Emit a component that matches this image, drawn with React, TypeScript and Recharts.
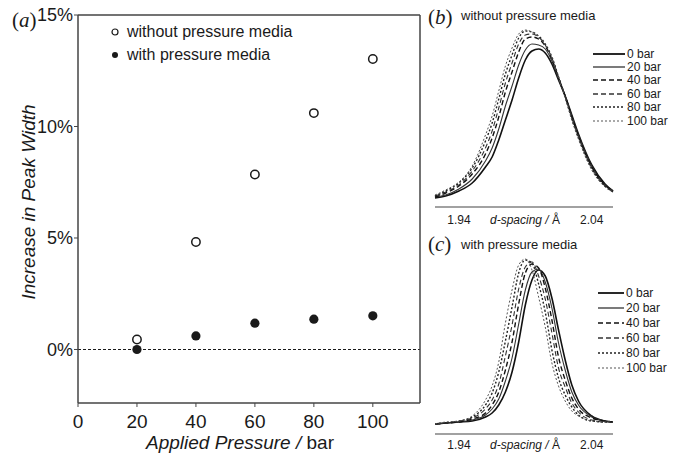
import { ScatterChart, Scatter, LineChart, Line, XAxis, YAxis, ReferenceLine } from 'recharts';

// panel (a): increase in peak width vs applied pressure
const pressures = [20, 40, 60, 80, 100];
const widthWithoutMedia = [0.45, 4.82, 7.85, 10.6, 13.03];
const widthWithMedia = [0.0, 0.61, 1.18, 1.36, 1.51];
const pressureTicks = [0, 20, 40, 60, 80, 100];
const percentTicks = [0, 5, 10, 15];

// panels (b), (c): peak profiles, arbitrary intensity
const dSpacing = [1.922, 1.93, 1.94, 1.95, 1.96, 1.965, 1.97, 1.975, 1.98, 1.985, 1.99, 1.995, 2.0, 2.005, 2.01, 2.015, 2.02, 2.025, 2.03, 2.04, 2.05, 2.056];
const dTicks = [1.94, 2.04];
const barLabels = ['0 bar', '20 bar', '40 bar', '60 bar', '80 bar', '100 bar'];

const without0 = [9, 11, 16, 24, 40, 50, 67, 87, 107, 129, 147, 156, 158, 154, 143, 127, 111, 92, 73, 42, 23, 16];
const without20 = [10, 12, 18, 28, 46, 59, 78, 101, 121, 142, 157, 163, 162, 158, 146, 128, 111, 91, 72, 41, 22, 16];
const without40 = [10, 14, 21, 33, 53, 69, 90, 115, 135, 155, 168, 170, 168, 161, 148, 129, 111, 90, 71, 40, 22, 16];
const without60 = [11, 15, 22, 36, 59, 76, 99, 124, 144, 163, 172, 173, 170, 162, 149, 130, 111, 89, 70, 39, 21, 15];
const without80 = [11, 16, 24, 39, 66, 84, 108, 133, 152, 169, 176, 175, 171, 163, 150, 130, 110, 88, 69, 38, 21, 15];
const without100 = [12, 17, 25, 41, 72, 91, 116, 141, 159, 173, 177, 175, 170, 162, 149, 129, 109, 87, 68, 37, 20, 15];

const with0 = [10, 11, 12, 13, 17, 21, 29, 42, 62, 92, 129, 154, 164, 158, 136, 104, 74, 49, 33, 18, 13, 12];
const with20 = [10, 11, 12, 14, 19, 25, 35, 53, 76, 110, 144, 162, 165, 152, 126, 91, 64, 42, 29, 17, 13, 12];
const with40 = [10, 11, 12, 15, 21, 29, 42, 64, 92, 130, 161, 170, 166, 146, 114, 77, 54, 36, 25, 16, 13, 12];
const with60 = [10, 11, 13, 16, 25, 34, 50, 78, 109, 145, 167, 172, 158, 135, 101, 66, 47, 31, 22, 14, 12, 12];
const with80 = [10, 11, 13, 17, 29, 41, 62, 93, 127, 161, 174, 171, 150, 122, 84, 56, 39, 27, 19, 13, 12, 12];
const with100 = [10, 12, 13, 18, 34, 48, 72, 111, 144, 169, 175, 164, 137, 107, 71, 48, 33, 23, 18, 13, 12, 12];

const SANS = '"Liberation Sans", Arial, sans-serif';
const SERIF = '"Liberation Serif", "Times New Roman", serif';
const INK = '#1a1a1a';
const FRAME = '#444';

const lineStyles = [
  { stroke: '#111', width: 1.6, dash: undefined },
  { stroke: '#333', width: 1.1, dash: undefined },
  { stroke: '#111', width: 1.4, dash: '5 3' },
  { stroke: '#333', width: 1.1, dash: '5 3' },
  { stroke: '#222', width: 1.4, dash: '2 2' },
  { stroke: '#555', width: 1.0, dash: '2 2' },
];

const withoutData = pressures.map((x, i) => ({ x, y: widthWithoutMedia[i] }));
const withData = pressures.map((x, i) => ({ x, y: widthWithMedia[i] }));

const buildRows = (series: number[][]) =>
  dSpacing.map((d, i) => {
    const row: Record<string, number> = { d };
    series.forEach((s, k) => (row['s' + k] = s[i]));
    return row;
  });

const rowsWithout = buildRows([without0, without20, without40, without60, without80, without100]);
const rowsWith = buildRows([with0, with20, with40, with60, with80, with100]);

const openCircle = (p: any) => <circle cx={p.cx} cy={p.cy} r={4.2} fill="#fff" stroke={INK} strokeWidth={1.5} />;
const filledCircle = (p: any) => <circle cx={p.cx} cy={p.cy} r={4.6} fill={INK} />;

function ScatterLegend() {
  const rows = [
    { label: 'without pressure media', open: true },
    { label: 'with pressure media', open: false },
  ];
  return (
    <div style={{ position: 'absolute', left: 108, top: 20, fontFamily: SANS, fontSize: 16, color: INK }}>
      {rows.map((r) => (
        <div key={r.label} style={{ display: 'flex', alignItems: 'center', height: 23 }}>
          <svg width={14} height={14}>
            <circle cx={7} cy={7} r={3} fill={r.open ? '#fff' : INK} stroke={INK} strokeWidth={r.open ? 1.2 : 0} />
          </svg>
          <span style={{ marginLeft: 5 }}>{r.label}</span>
        </div>
      ))}
    </div>
  );
}

function PeakLegend({ left, top, rowHeight, lineLen }: { left: number; top: number; rowHeight: number; lineLen: number }) {
  return (
    <div style={{ position: 'absolute', left, top, fontFamily: SANS, fontSize: 12, color: INK }}>
      {barLabels.map((label, k) => (
        <div key={label} style={{ display: 'flex', alignItems: 'center', height: rowHeight }}>
          <svg width={lineLen} height={6}>
            <line x1={0} y1={3} x2={lineLen} y2={3} stroke={lineStyles[k].stroke} strokeWidth={lineStyles[k].width + 0.2} strokeDasharray={lineStyles[k].dash} />
          </svg>
          <span style={{ marginLeft: 2 }}>{label}</span>
        </div>
      ))}
    </div>
  );
}

type PeakProps = {
  rows: Record<string, number>[];
  height: number;
  top: number;
  axisHeight: number;
  yMax: number;
  tickSize: number;
  labelDy: number;
};

function PeakPanel(p: PeakProps) {
  return (
    <LineChart width={253} height={p.height} data={p.rows} margin={{ top: p.top, right: 65, bottom: 0, left: 10 }}>
      <XAxis
        type="number"
        dataKey="d"
        domain={[1.922, 2.056]}
        ticks={dTicks}
        tickFormatter={(v: number) => v.toFixed(2)}
        height={p.axisHeight}
        tickLine={false}
        tickSize={p.tickSize}
        tickMargin={2}
        axisLine={{ stroke: FRAME, strokeWidth: 1.2 }}
        tick={{ fill: INK, fontSize: 12, fontFamily: SANS }}
        label={(lp: any) => {
          const vb = lp.viewBox;
          return (
            <text x={vb.x + vb.width / 2 + 1} y={vb.y + p.labelDy} textAnchor="middle" dominantBaseline="central" fontFamily={SANS} fontSize={12} fill={INK}>
              <tspan fontStyle="italic">d-spacing /</tspan> Å
            </text>
          );
        }}
      />
      <YAxis hide domain={[0, p.yMax]} />
      {lineStyles.map((st, k) => (
        <Line
          key={k}
          dataKey={'s' + k}
          name={barLabels[k]}
          type="monotone"
          dot={false}
          stroke={st.stroke}
          strokeWidth={st.width}
          strokeDasharray={st.dash}
          isAnimationActive={false}
        />
      ))}
    </LineChart>
  );
}

export default function App() {
  return (
    <div style={{ position: 'relative', width: 678, height: 454, background: '#fff', overflow: 'hidden' }}>
      <style>{'body{margin:0}'}</style>
      <div style={{ position: 'absolute', left: 0, top: 0 }}>
        <ScatterChart width={430} height={454} margin={{ top: 15, right: 10, bottom: 0, left: 0 }}>
          <XAxis
            type="number"
            dataKey="x"
            domain={[0, 116]}
            ticks={pressureTicks}
            allowDataOverflow
            height={51}
            tickSize={4}
            tickMargin={8}
            axisLine={{ stroke: FRAME, strokeWidth: 1.5 }}
            tickLine={{ stroke: FRAME }}
            tick={{ fill: INK, fontSize: 19, fontFamily: SANS }}
            label={(lp: any) => {
              const vb = lp.viewBox;
              return (
                <text x={vb.x + 162} y={vb.y + 46} textAnchor="middle" fontFamily={SANS} fontSize={19} fill={INK}>
                  <tspan fontStyle="italic">Applied Pressure /</tspan> bar
                </text>
              );
            }}
          />
          <YAxis
            type="number"
            dataKey="y"
            domain={[-2.4, 15]}
            ticks={percentTicks}
            allowDataOverflow
            width={78}
            tickSize={4}
            tickMargin={1}
            tickFormatter={(v: number) => v + '%'}
            axisLine={{ stroke: FRAME, strokeWidth: 1.5 }}
            tickLine={{ stroke: FRAME }}
            tick={{ fill: INK, fontSize: 18, fontFamily: SANS }}
            label={(lp: any) => {
              const vb = lp.viewBox;
              const cx = vb.x + 28;
              const cy = vb.y + 187;
              return (
                <text x={cx} y={cy} transform={`rotate(-90, ${cx}, ${cy})`} textAnchor="middle" dominantBaseline="central" fontFamily={SANS} fontSize={19} fontStyle="italic" fill={INK}>
                  Increase in Peak Width
                </text>
              );
            }}
          />
          <ReferenceLine y={0} stroke={INK} strokeDasharray="3 2" strokeWidth={1.1} />
          <ReferenceLine y={15} stroke={FRAME} strokeWidth={1.5} />
          <ReferenceLine x={116} stroke={FRAME} strokeWidth={1.5} />
          <Scatter name="without pressure media" data={withoutData} shape={openCircle} isAnimationActive={false} />
          <Scatter name="with pressure media" data={withData} shape={filledCircle} isAnimationActive={false} />
        </ScatterChart>
      </div>
      <ScatterLegend />

      <div style={{ position: 'absolute', left: 425, top: 0 }}>
        <PeakPanel rows={rowsWithout} height={232} top={17} axisHeight={25} yMax={190} tickSize={6} labelDy={13} />
      </div>
      <PeakLegend left={593} top={47} rowHeight={13.4} lineLen={32} />
      <div style={{ position: 'absolute', left: 425, top: 225 }}>
        <PeakPanel rows={rowsWith} height={229} top={24} axisHeight={20} yMax={185} tickSize={4} labelDy={11} />
      </div>
      <PeakLegend left={598} top={285} rowHeight={15} lineLen={26} />

      <div style={{ position: 'absolute', left: 12, top: 10, fontFamily: SERIF, fontSize: 21, color: INK, lineHeight: 1 }}>
        (<i>a</i>)
      </div>
      <div style={{ position: 'absolute', left: 428, top: 7, fontFamily: SERIF, fontSize: 21, color: INK, lineHeight: 1 }}>
        (<i>b</i>)
      </div>
      <div style={{ position: 'absolute', left: 461, top: 9, fontFamily: SANS, fontSize: 13, color: INK, lineHeight: 1 }}>
        without pressure media
      </div>
      <div style={{ position: 'absolute', left: 428, top: 234, fontFamily: SERIF, fontSize: 21, color: INK, lineHeight: 1 }}>
        (<i>c</i>)
      </div>
      <div style={{ position: 'absolute', left: 461, top: 238, fontFamily: SANS, fontSize: 13, color: INK, lineHeight: 1 }}>
        with pressure media
      </div>
    </div>
  );
}
